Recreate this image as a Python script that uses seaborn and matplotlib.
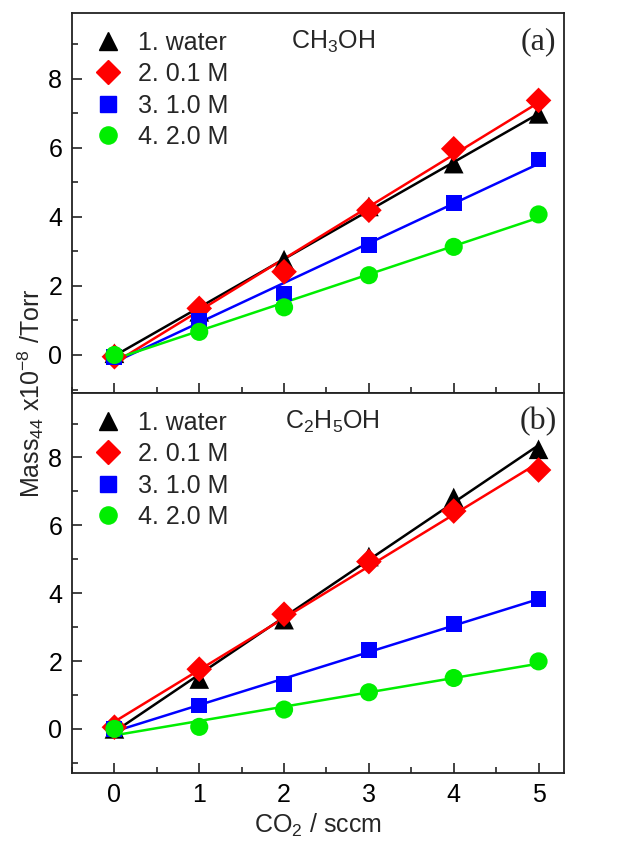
import numpy as np
import pandas as pd
import matplotlib.pyplot as plt
import seaborn as sns
from matplotlib.lines import Line2D
from matplotlib.ticker import MultipleLocator

sns.set_theme(style="ticks")
plt.rcParams['font.family'] = ['Liberation Sans', 'DejaVu Sans']
plt.rcParams['mathtext.fontset'] = 'custom'
plt.rcParams['mathtext.rm'] = 'Liberation Sans'
plt.rcParams['mathtext.it'] = 'Liberation Sans'
plt.rcParams['mathtext.default'] = 'rm'

# data
flow = [0, 1, 2, 3, 4, 5]
series_names = ["1. water", "2. 0.1 M", "3. 1.0 M", "4. 2.0 M"]
colors = ["black", "#ff0000", "#0000ff", "#00ee00"]
markers = ["^", "D", "s", "o"]
msizes = [200, 170, 130, 170]

# panel (a) CH3OH
meoh_water = [0.05, 1.25, 2.76, 4.30, 5.54, 6.98]
meoh_01 = [-0.05, 1.35, 2.41, 4.19, 5.97, 7.37]
meoh_10 = [-0.05, 0.99, 1.78, 3.18, 4.41, 5.66]
meoh_20 = [0.0, 0.67, 1.38, 2.31, 3.13, 4.07]

# panel (b) C2H5OH
etoh_water = [0.0, 1.47, 3.22, 5.08, 6.82, 8.24]
etoh_01 = [0.05, 1.76, 3.38, 4.93, 6.42, 7.63]
etoh_10 = [0.0, 0.69, 1.32, 2.33, 3.09, 3.82]
etoh_20 = [0.0, 0.06, 0.57, 1.08, 1.50, 1.99]

panels = [
    ([meoh_water, meoh_01, meoh_10, meoh_20], "CH$_3$OH", "(a)", (-1.1, 9.9)),
    ([etoh_water, etoh_01, etoh_10, etoh_20], "C$_2$H$_5$OH", "(b)", (-1.3, 9.9)),
]

fs = 18

fig = plt.figure(figsize=(6.39, 8.41), dpi=100)
ax1 = fig.add_axes([72 / 639, 1 - 393 / 841, (564 - 72) / 639, (393 - 13) / 841])
ax2 = fig.add_axes([72 / 639, 1 - 773 / 841, (564 - 72) / 639, (773 - 393) / 841], sharex=ax1)

for ax, (vals, title, tag, ylim) in zip([ax1, ax2], panels):
    for name, y, c, m, s in zip(series_names, vals, colors, markers, msizes):
        k, b = np.polyfit(flow, y, 1)
        fit = pd.DataFrame({"x": flow, "y": k * np.array(flow) + b})
        sns.lineplot(data=fit, x="x", y="y", color=c, lw=1.8, ax=ax, zorder=2)
        pts = pd.DataFrame({"x": flow, "y": y})
        sns.scatterplot(data=pts, x="x", y="y", color=c, marker=m, s=s,
                        edgecolor="none", ax=ax, zorder=3)
    ax.set_ylim(*ylim)
    ax.set_xlim(-0.5, 5.3)
    ax.yaxis.set_major_locator(MultipleLocator(2))
    ax.yaxis.set_minor_locator(MultipleLocator(1))
    ax.xaxis.set_major_locator(MultipleLocator(1))
    ax.xaxis.set_minor_locator(MultipleLocator(0.5))
    ax.tick_params(which="major", direction="in", length=7, width=1.2, labelsize=fs,
                   top=False, right=False, colors="#222222", labelcolor="black", pad=7)
    ax.tick_params(which="minor", direction="in", length=4, width=1.2, top=False, right=False)
    for sp in ax.spines.values():
        sp.set_linewidth(1.3)
        sp.set_color("#222222")
    ax.set_xlabel("")
    ax.set_ylabel("")
    ax.text(0.53, 0.925, title, transform=ax.transAxes, fontsize=fs, ha="center", va="center")
    ax.text(0.985, 0.925, tag, transform=ax.transAxes, fontsize=23, ha="right", va="center",
            family="Liberation Serif")
    handles = [Line2D([], [], color=c, marker=m, ls="none", markersize=np.sqrt(s) * 0.95)
               for c, m, s in zip(colors, markers, msizes)]
    ax.legend(handles, series_names, loc="upper left", frameon=False, fontsize=fs,
              handlelength=1.2, handletextpad=0.6, labelspacing=0.3, borderaxespad=0.2,
              bbox_to_anchor=(0.012, 0.993))

plt.setp(ax1.get_xticklabels(), visible=False)
ax2.set_xlabel("CO$_2$ / sccm", fontsize=fs, labelpad=4)
fig.text(0.048, 1 - 393 / 841, "Mass$_{44}$ x10$^{-8}$ /Torr", rotation=90, fontsize=fs,
         ha="center", va="center")

fig.savefig("out.png", dpi=100)
